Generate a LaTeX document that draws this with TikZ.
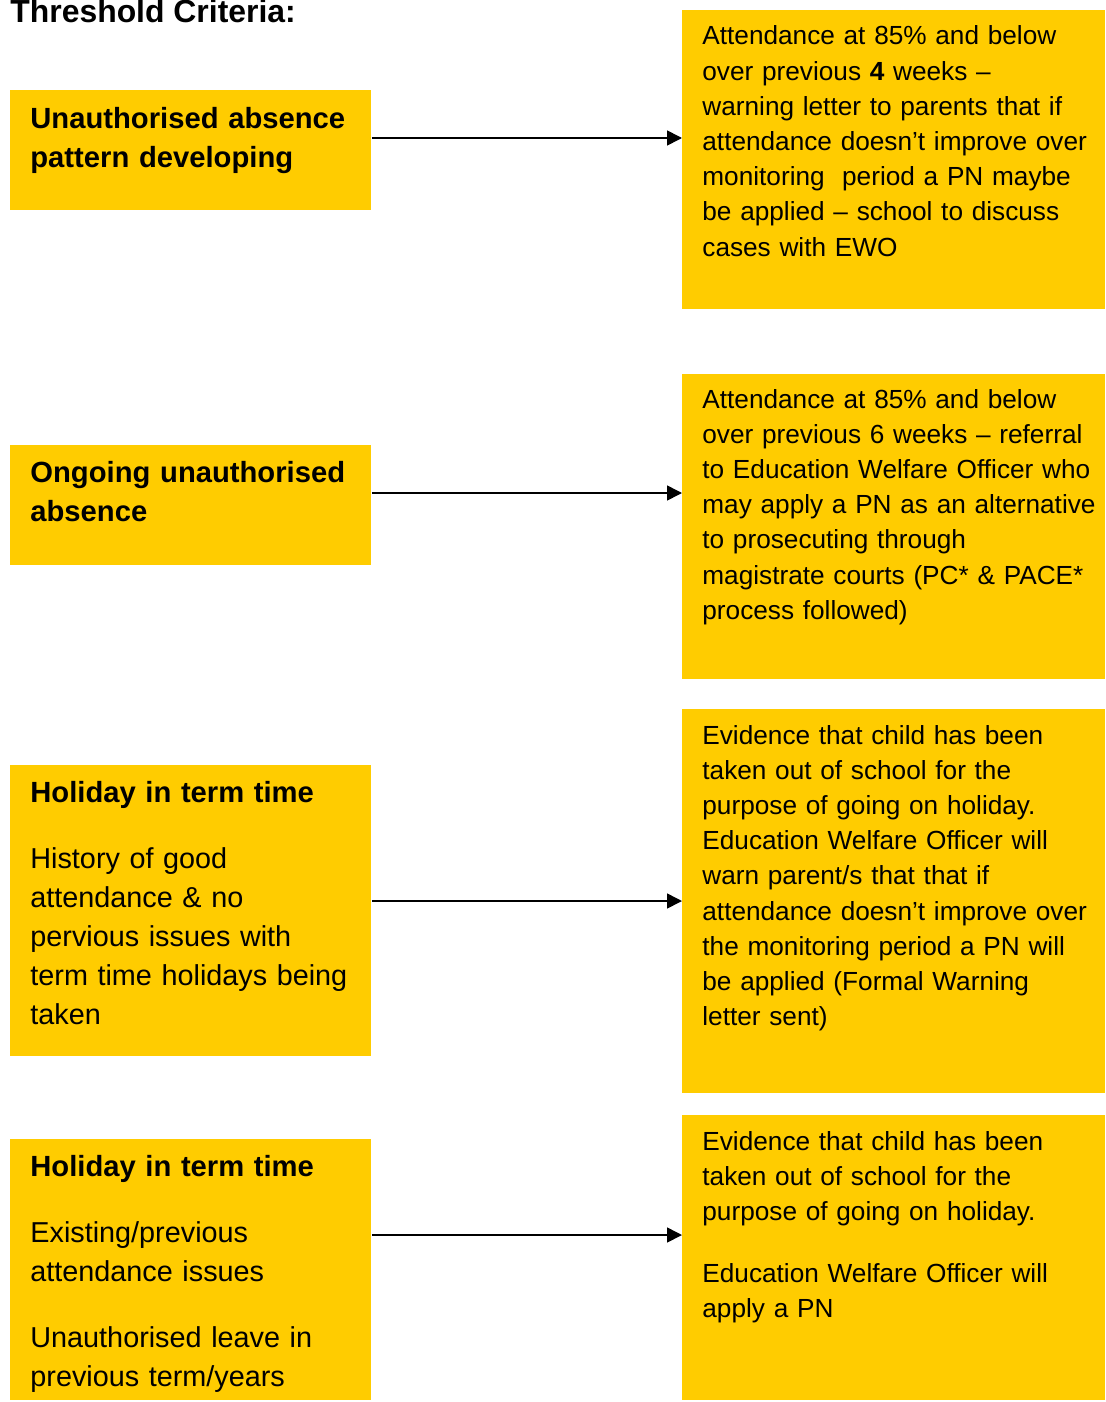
\documentclass[tikz,border=0pt]{standalone}
\usepackage{fontspec}
\setmainfont{Liberation Sans}
\definecolor{crityellow}{RGB}{255, 204, 0}
\usetikzlibrary{arrows.meta, positioning, calc}

\begin{document}
\begin{tikzpicture}[
    x=0.5pt, y=-0.5pt,
  ]

  \tikzset{
    lbox/.style={
      fill=crityellow, draw=none, anchor=north west,
      minimum width=180.5pt, inner sep=0pt,
    },
    rbox/.style={
      fill=crityellow, draw=none, anchor=north west,
      minimum width=211.5pt, inner sep=0pt,
    },
    ltext/.style={
      anchor=base west, inner sep=0pt, text width=178pt, align=left,
      font=\fontsize{14.4pt}{19.5pt}\selectfont,
    },
    lhead/.style={font=\fontsize{14.6pt}{19.5pt}\selectfont\bfseries},
    rtext/.style={
      anchor=base west, inner sep=0pt, text width=205pt, align=left,
      font=\fontsize{13.1pt}{17.6pt}\selectfont,
    },
    flow/.style={
      -{Triangle[length=7.5pt, width=7.5pt]},
      line width=0.8pt, color=black,
    },
    pagetitle/.style={
      anchor=base west, inner sep=0pt,
      font=\fontsize{15.95pt}{19pt}\selectfont\bfseries,
    },
  }

  \useasboundingbox (0, 0) rectangle (1105, 1402);

  %% ---------------- TITLE ----------------
  \node[pagetitle] (title) at (10, 23) {Threshold Criteria:};

  %% ---------------- LEFT COLUMN ----------------
  \node[lbox, minimum height=60pt] (pattern) at (10, 90) {};
  \node[ltext, lhead] (pattern-txt) at ([shift={(20, 38)}]pattern.north west)
    {Unauthorised absence\\ pattern developing};

  \node[lbox, minimum height=60pt] (ongoing) at (10, 445) {};
  \node[ltext, lhead] (ongoing-txt) at ([shift={(20, 37.5)}]ongoing.north west)
    {Ongoing unauthorised\\ absence};

  \node[lbox, minimum height=145.5pt] (holgood) at (10, 765) {};
  \node[ltext] (holgood-txt) at ([shift={(20, 37.5)}]holgood.north west)
    {{\fontsize{14.6pt}{19.5pt}\selectfont\bfseries Holiday in term time}\\[13.5pt]
     History of good\\ attendance \& no\\ pervious issues with\\
     term time holidays being\\ taken};

  \node[lbox, minimum height=130.5pt] (holpoor) at (10, 1139) {};
  \node[ltext] (holpoor-txt) at ([shift={(20, 37.5)}]holpoor.north west)
    {{\fontsize{14.6pt}{19.5pt}\selectfont\bfseries Holiday in term time}\\[13.5pt]
     Existing/previous\\ attendance issues\\[13.5pt]
     Unauthorised leave in\\ previous term/years};

  %% ---------------- RIGHT COLUMN ----------------
  \node[rbox, minimum height=149.5pt] (warning) at (682, 10) {};
  \node[rtext] (warning-txt) at ([shift={(20, 35)}]warning.north west)
    {Attendance at 85\% and below\\
     over previous \textbf{4} weeks –\\
     warning letter to parents that if\\
     attendance doesn’t improve over\\
     monitoring\ \ period a PN maybe\\
     be applied – school to discuss\\
     cases with EWO};

  \node[rbox, minimum height=152.5pt] (referral) at (682, 374) {};
  \node[rtext] (referral-txt) at ([shift={(20, 34)}]referral.north west)
    {Attendance at 85\% and below\\
     over previous 6 weeks – referral\\
     to Education Welfare Officer who\\
     may apply a PN as an alternative\\
     to prosecuting through\\
     magistrate courts (PC* \& PACE*\\
     process followed)};

  \node[rbox, minimum height=192pt] (formal) at (682, 709) {};
  \node[rtext] (formal-txt) at ([shift={(20, 35)}]formal.north west)
    {Evidence that child has been\\
     taken out of school for the\\
     purpose of going on holiday.\\
     Education Welfare Officer will\\
     warn parent/s that that if\\
     attendance doesn’t improve over\\
     the monitoring period a PN will\\
     be applied (Formal Warning\\
     letter sent)};

  \node[rbox, minimum height=142.5pt] (apply) at (682, 1115) {};
  \node[rtext] (apply-txt) at ([shift={(20, 35)}]apply.north west)
    {Evidence that child has been\\
     taken out of school for the\\
     purpose of going on holiday.\\[13.5pt]
     Education Welfare Officer will\\
     apply a PN};

  %% ---------------- ARROWS ----------------
  \draw[flow] (pattern.east |- 0, 138) -- (warning.west |- 0, 138);
  \draw[flow] (ongoing.east |- 0, 493) -- (referral.west |- 0, 493);
  \draw[flow] (holgood.east |- 0, 901) -- (formal.west |- 0, 901);
  \draw[flow] (holpoor.east |- 0, 1235) -- (apply.west |- 0, 1235);

\end{tikzpicture}
\end{document}
